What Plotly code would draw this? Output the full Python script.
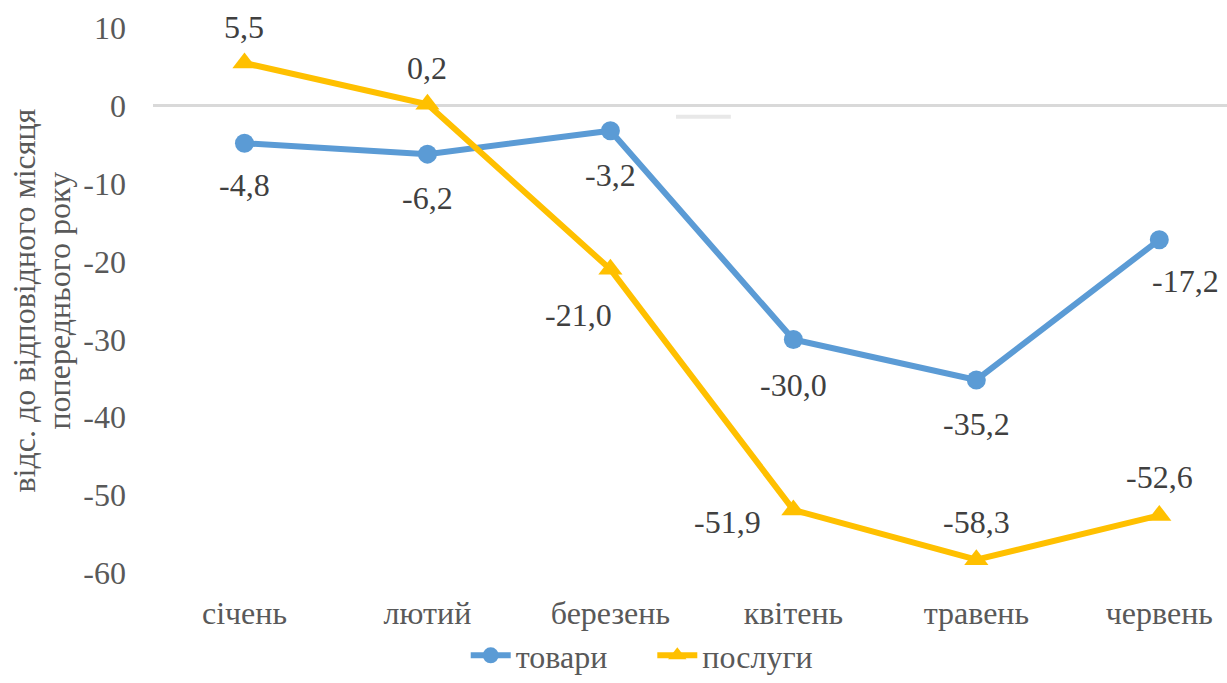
import plotly.graph_objects as go

months = ["січень", "лютий", "березень", "квітень", "травень", "червень"]
goods = [-4.8, -6.2, -3.2, -30.0, -35.2, -17.2]
services = [5.5, 0.2, -21.0, -51.9, -58.3, -52.6]

y_ticks = [10, 0, -10, -20, -30, -40, -50, -60]
y_tick_text = ["10", "0", "-10", "-20", "-30", "-40", "-50", "-60"]
y_title_lines = ["відс. до відповідного місяця", "попереднього року"]

# label offsets in px (dx, dy with dy positive = downwards)
goods_offsets = [(0, 42), (0, 44), (0, 44), (0, 46), (0, 44), (26, 41)]
services_offsets = [(0, -36), (0, -36), (-32, 46), (-66, 12), (0, -38), (0, -38)]

BLUE = "#5B9BD5"
GOLD = "#FFC000"
FONT = "'Times New Roman', 'Liberation Serif', 'DejaVu Serif', serif"

W, H = 1227, 683
L, R, T, B = 153, 0, 28, 110


def fmt(v):
    return f"{v:.1f}".replace(".", ",")


fig = go.Figure()
fig.add_trace(
    go.Scatter(
        x=months,
        y=goods,
        name="товари" + "\u00a0" * 5,
        mode="lines+markers",
        line={"color": BLUE, "width": 6},
        marker={"symbol": "circle", "size": 19, "color": BLUE},
    )
)
fig.add_trace(
    go.Scatter(
        x=months,
        y=services,
        name="послуги",
        mode="lines+markers",
        line={"color": GOLD, "width": 6},
        marker={"symbol": "triangle-up", "size": 21, "color": GOLD},
    )
)

annotations = []
for series, offsets in ((goods, goods_offsets), (services, services_offsets)):
    for m, v, (dx, dy) in zip(months, series, offsets):
        annotations.append(
            dict(
                x=m,
                y=v,
                text=fmt(v),
                showarrow=False,
                xshift=dx,
                yshift=-dy,
                font={"family": FONT, "size": 32, "color": "#404040"},
            )
        )

plot_w = W - L - R
for line, px in zip(y_title_lines, [23, 58]):
    annotations.append(
        dict(
            xref="paper",
            yref="paper",
            x=(px - L) / plot_w,
            y=0.5,
            text=line,
            textangle=-90,
            showarrow=False,
            xanchor="center",
            yanchor="middle",
            font={"family": FONT, "size": 32, "color": "#595959"},
        )
    )

fig.update_layout(
    width=W,
    height=H,
    autosize=False,
    margin=dict(l=L, r=R, t=T, b=B, autoexpand=False),
    paper_bgcolor="white",
    plot_bgcolor="white",
    font={"family": FONT, "size": 32, "color": "#595959"},
    annotations=annotations,
    showlegend=True,
    legend=dict(
        orientation="h",
        xref="container",
        yref="container",
        x=0.523,
        y=0.0,
        xanchor="center",
        yanchor="bottom",
        font={"family": FONT, "size": 32, "color": "#595959"},
        itemwidth=40,
        bgcolor="rgba(0,0,0,0)",
    ),
    shapes=[
        dict(
            type="line",
            xref="paper",
            yref="y",
            x0=0.487,
            x1=0.538,
            y0=-1.4,
            y1=-1.4,
            line={"color": "#E8E8E8", "width": 4},
        )
    ],
)
fig.update_xaxes(
    type="category",
    range=[-0.5, 5.37],
    showgrid=False,
    showline=False,
    zeroline=False,
    ticks="",
    ticklabelstandoff=18,
    tickfont={"family": FONT, "size": 32, "color": "#595959"},
)
fig.update_yaxes(
    range=[-60, 10],
    tickvals=y_ticks,
    ticktext=y_tick_text,
    showgrid=False,
    showline=False,
    zeroline=True,
    zerolinecolor="#D9D9D9",
    zerolinewidth=3,
    ticks="",
    ticklabelstandoff=26,
    tickfont={"family": FONT, "size": 32, "color": "#595959"},
)

# drop the default 8px body margin so the figure fills the window exactly
fig.write_html(
    "out.html",
    config={"displayModeBar": False},
    post_script="document.body.style.margin = '0';",
)
